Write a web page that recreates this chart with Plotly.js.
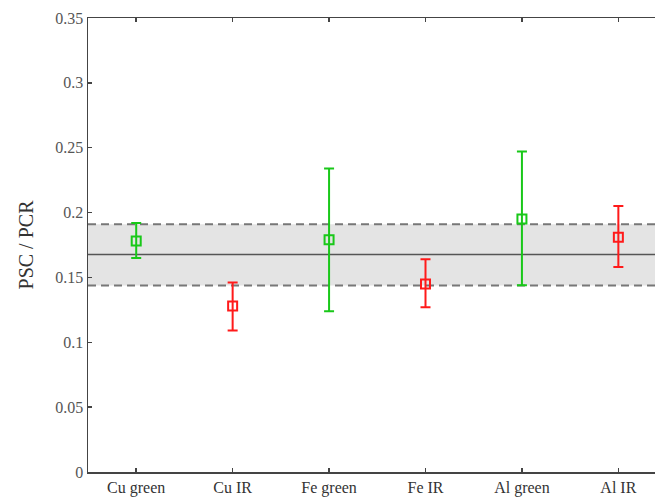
<!DOCTYPE html>
<html>
<head>
<meta charset="utf-8">
<script src="https://cdn.plot.ly/plotly-3.0.1.min.js"></script>
<style>html,body{margin:0;padding:0;overflow:hidden;background:#fff;}</style>
</head>
<body>
<div id="chart" style="width:655px;height:502px;"></div>
<script>
const categories = ["Cu green", "Cu IR", "Fe green", "Fe IR", "Al green", "Al IR"];
const values     = [0.178, 0.128, 0.179, 0.145, 0.195, 0.181];
const upperErr   = [0.192, 0.146, 0.234, 0.164, 0.247, 0.205];
const lowerErr   = [0.165, 0.109, 0.124, 0.127, 0.144, 0.158];
const groups     = ["green", "IR", "green", "IR", "green", "IR"];
const meanValue  = 0.1677;
const bandLow    = 0.1438;
const bandHigh   = 0.1910;
const yTicks     = [0, 0.05, 0.1, 0.15, 0.2, 0.25, 0.3, 0.35];
const yTickText  = ["0", "0.05", "0.1", "0.15", "0.2", "0.25", "0.3", "0.35"];

const colors = {green: "#19c819", IR: "#ff1a1a"};
const idx = categories.map((c, i) => i);
const FONT = "Liberation Serif, serif";

function makeTrace(g) {
  const ii = idx.filter(i => groups[i] === g);
  return {
    type: "scatter", mode: "markers",
    x: ii.map(i => i), y: ii.map(i => values[i]),
    marker: {symbol: "square-open", size: 9, color: colors[g], line: {width: 2, color: colors[g]}},
    error_y: {type: "data", symmetric: false,
      array: ii.map(i => upperErr[i] - values[i]),
      arrayminus: ii.map(i => values[i] - lowerErr[i]),
      color: colors[g], thickness: 2, width: 5},
    showlegend: false, hoverinfo: "skip", cliponaxis: false
  };
}

const data = [makeTrace("green"), makeTrace("IR")];

const layout = {
  width: 655, height: 502,
  margin: {l: 88, r: 0, t: 18, b: 30},
  paper_bgcolor: "#fff", plot_bgcolor: "#fff",
  font: {family: FONT, color: "#444", size: 16},
  xaxis: {
    range: [-0.5, 5.38],
    tickmode: "array", tickvals: idx, ticktext: categories,
    ticks: "inside", ticklen: 4, tickcolor: "#444", tickwidth: 1.5,
    showline: true, linecolor: "#444", linewidth: 1.5, mirror: "ticks",
    showgrid: false, zeroline: false,
    tickfont: {family: FONT, size: 16, color: "#333"}
  },
  yaxis: {
    range: [0, 0.35],
    tickmode: "array", tickvals: yTicks, ticktext: yTickText,
    ticks: "inside", ticklen: 4, tickcolor: "#444", tickwidth: 1.5,
    showline: true, linecolor: "#444", linewidth: 1.5, mirror: false,
    showgrid: false, zeroline: false,
    tickfont: {family: FONT, size: 16, color: "#555"},
    title: {text: "PSC / PCR", font: {family: FONT, size: 20, color: "#333"}, standoff: 16}
  },
  shapes: [
    {type: "rect", xref: "paper", yref: "y", x0: 0, x1: 1, y0: bandLow, y1: bandHigh,
     fillcolor: "#e4e4e4", line: {width: 0}, layer: "below"},
    {type: "line", xref: "paper", yref: "y", x0: 0, x1: 1, y0: meanValue, y1: meanValue,
     line: {color: "#555", width: 1.5}, layer: "below"},
    {type: "line", xref: "paper", yref: "y", x0: 0, x1: 1, y0: bandHigh, y1: bandHigh,
     line: {color: "#777", width: 2, dash: "8px,5px"}, layer: "below"},
    {type: "line", xref: "paper", yref: "y", x0: 0, x1: 1, y0: bandLow, y1: bandLow,
     line: {color: "#777", width: 2, dash: "8px,5px"}, layer: "below"}
  ]
};

Plotly.newPlot("chart", data, layout, {displayModeBar: false, staticPlot: true});
</script>
</body>
</html>
